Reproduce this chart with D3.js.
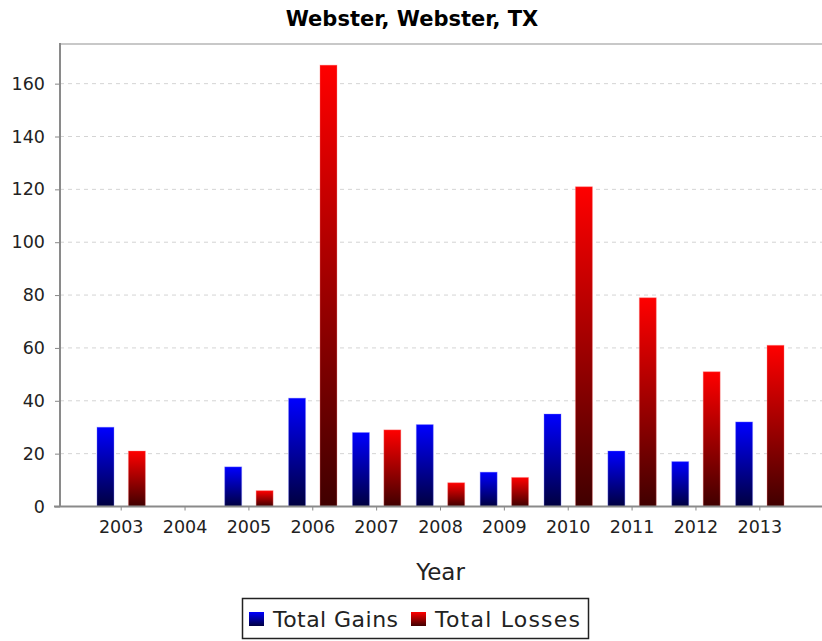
<!DOCTYPE html>
<html lang="en">
<head>
<meta charset="UTF-8">
<title>Webster, Webster, TX</title>
<script src="https://d3js.org/d3.v7.min.js"></script>
<style>
    body { margin: 0; background: #fff; }
    text { font-family: "DejaVu Sans", sans-serif; fill: #222; }
    .grid line { stroke: #d4d4d4; stroke-dasharray: 4 4; }
</style>
</head>
<body>
<div id="chart"></div>
<script>
// data
const years = ["2003", "2004", "2005", "2006", "2007", "2008", "2009", "2010", "2011", "2012", "2013"];
const totalGains = [30, 0, 15, 41, 28, 31, 13, 35, 21, 17, 32];
const totalLosses = [21, 0, 6, 167, 29, 9, 11, 121, 79, 51, 61];
const yTicks = [0, 20, 40, 60, 80, 100, 120, 140, 160];
const seriesNames = ["Total Gains", "Total Losses"];

const W = 822, H = 641;
const plot = { left: 60, right: 821, top: 44, bottom: 506.5 };

const svg = d3.select("#chart").append("svg")
    .attr("width", W)
    .attr("height", H);

// gradients, bright at the top, dark at the base
const defs = svg.append("defs");
const grads = [
    { id: "gGains", top: "#0000ff", bottom: "#000040" },
    { id: "gLosses", top: "#ff0000", bottom: "#400000" }
];
grads.forEach(g => {
    const lg = defs.append("linearGradient")
        .attr("id", g.id)
        .attr("x1", 0).attr("y1", 0).attr("x2", 0).attr("y2", 1);
    lg.append("stop").attr("offset", "0%").attr("stop-color", g.top);
    lg.append("stop").attr("offset", "100%").attr("stop-color", g.bottom);
});

const x = d3.scaleBand()
    .domain(years)
    .range([plot.left, plot.right])
    .paddingInner(0)
    .paddingOuter(0.458);

const x1 = d3.scaleBand()
    .domain([0, 1])
    .range([0, x.bandwidth()])
    .paddingInner(0.459)
    .paddingOuter(0.246);

const y = d3.scaleLinear()
    .domain([0, 175])
    .range([plot.bottom, plot.top]);

// grid lines
svg.append("g")
    .attr("class", "grid")
    .selectAll("line")
    .data(yTicks.filter(d => d > 0))
    .enter()
    .append("line")
    .attr("x1", plot.left)
    .attr("x2", W)
    .attr("y1", d => y(d))
    .attr("y2", d => y(d));

// plot outline top
svg.append("line")
    .attr("x1", plot.left).attr("x2", W)
    .attr("y1", plot.top).attr("y2", plot.top)
    .style("stroke", "#c8c8c8")
    .style("stroke-width", 2);

// bars
const rows = years.map((yr, i) => ({ year: yr, vals: [totalGains[i], totalLosses[i]] }));
const groups = svg.append("g")
    .selectAll("g")
    .data(rows)
    .enter()
    .append("g")
    .attr("transform", d => `translate(${x(d.year)},0)`);

groups.selectAll("rect")
    .data(d => d.vals.map((v, k) => ({ k: k, v: v })).filter(e => e.v > 0))
    .enter()
    .append("rect")
    .attr("x", d => x1(d.k))
    .attr("width", x1.bandwidth())
    .attr("y", d => y(d.v))
    .attr("height", d => y(0) - y(d.v))
    .attr("fill", d => `url(#${grads[d.k].id})`)
    .style("stroke", d => d.k === 0 ? "#8080ff" : "#ff8080")
    .style("stroke-opacity", 0.35)
    .style("stroke-width", 1);

// y axis
const yAxis = d3.axisLeft(y)
    .tickValues(yTicks)
    .tickSize(5)
    .tickPadding(10);
const gy = svg.append("g")
    .attr("transform", `translate(${plot.left},0)`)
    .call(yAxis);
gy.select(".domain").remove();
gy.selectAll(".tick line").style("stroke", "#888");
gy.selectAll("text").style("font-size", "17.5px").style("fill", "#222");
svg.append("line")
    .attr("x1", plot.left).attr("x2", plot.left)
    .attr("y1", plot.top - 1).attr("y2", plot.bottom)
    .style("stroke", "#8a8a8a")
    .style("stroke-width", 2);

// x axis
const xAxis = d3.axisBottom(x)
    .tickSize(4)
    .tickPadding(10);
const gx = svg.append("g")
    .attr("transform", `translate(0,${plot.bottom})`)
    .call(xAxis);
gx.select(".domain").remove();
gx.selectAll(".tick line").style("stroke", "#888");
gx.selectAll("text").style("font-size", "17.5px").style("fill", "#222");
svg.append("line")
    .attr("x1", plot.left - 6).attr("x2", W)
    .attr("y1", plot.bottom).attr("y2", plot.bottom)
    .style("stroke", "#8a8a8a")
    .style("stroke-width", 2);

// title
svg.append("text")
    .attr("x", W / 2 + 1)
    .attr("y", 26)
    .attr("text-anchor", "middle")
    .style("font-size", "21px")
    .style("font-weight", "bold")
    .style("fill", "#000")
    .text("Webster, Webster, TX");

// axis label
svg.append("text")
    .attr("x", (plot.left + plot.right) / 2)
    .attr("y", 580)
    .attr("text-anchor", "middle")
    .style("font-size", "23px")
    .text("Year");

// legend
const legend = svg.append("g");
legend.append("rect")
    .attr("x", 242.5).attr("y", 598.5)
    .attr("width", 346).attr("height", 40)
    .style("fill", "#fff")
    .style("stroke", "#222")
    .style("stroke-width", 1.5);
const items = [{ x: 249, tx: 273 }, { x: 411, tx: 435 }];
items.forEach((it, k) => {
    legend.append("rect")
        .attr("x", it.x).attr("y", 612)
        .attr("width", 15).attr("height", 14)
        .attr("fill", `url(#${grads[k].id})`);
    legend.append("text")
        .attr("x", it.tx).attr("y", 627)
        .attr("textLength", k === 0 ? 125 : 145)
        .style("font-size", "22px")
        .text(seriesNames[k]);
});
</script>
</body>
</html>
